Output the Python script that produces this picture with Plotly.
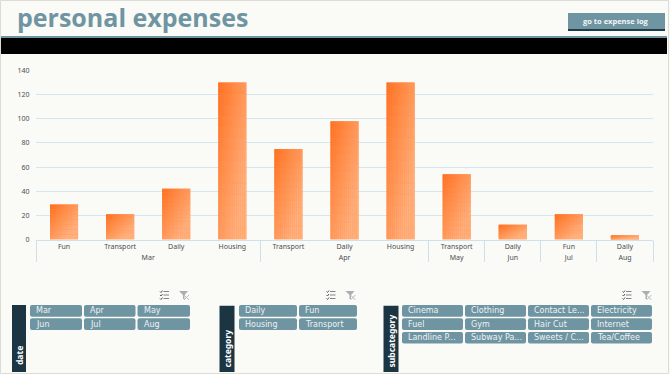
import plotly.graph_objects as go

months = ["Mar", "Mar", "Mar", "Mar", "Apr", "Apr", "Apr", "May", "Jun", "Jul", "Aug"]
categories = ["Fun", "Transport", "Daily", "Housing", "Transport", "Daily", "Housing", "Transport", "Daily", "Fun", "Daily"]
amounts = [29, 21, 42, 130, 75, 98, 130, 54, 12, 21, 3]
y_ticks = [0, 20, 40, 60, 80, 100, 120, 140]
date_items = ["Mar", "Apr", "May", "Jun", "Jul", "Aug"]
category_items = ["Daily", "Fun", "Housing", "Transport"]
subcategory_items = ["Cinema", "Clothing", "Contact Le...", "Electricity", "Fuel", "Gym", "Hair Cut", "Internet",
                     "Landline P...", "Subway Pa...", "Sweets / C...", "Tea/Coffee"]

W, H = 670, 374
BG = "#FAFAF6"
TEAL = "#6F95A3"
DARK = "#1C3542"
LABEL = "DejaVu Sans"
AXIS_FONT = "Noto Sans"
CLEAR = "rgba(0,0,0,0)"


def px(x):
    return x / W


def py(y):
    return 1 - y / H


def rect(x0, y0, x1, y1, color, line=None, radius=0):
    if radius:
        r = radius
        path = (f"M{px(x0 + r)},{py(y0)} L{px(x1 - r)},{py(y0)} Q{px(x1)},{py(y0)} {px(x1)},{py(y0 + r)} "
                f"L{px(x1)},{py(y1 - r)} Q{px(x1)},{py(y1)} {px(x1 - r)},{py(y1)} "
                f"L{px(x0 + r)},{py(y1)} Q{px(x0)},{py(y1)} {px(x0)},{py(y1 - r)} "
                f"L{px(x0)},{py(y0 + r)} Q{px(x0)},{py(y0)} {px(x0 + r)},{py(y0)} Z")
        return dict(type="path", xref="paper", yref="paper", path=path, fillcolor=color,
                    line=dict(width=0), layer="below")
    return dict(type="rect", xref="paper", yref="paper", x0=px(x0), x1=px(x1), y0=py(y1), y1=py(y0),
                fillcolor=color, line=dict(width=1, color=line) if line else dict(width=0), layer="below")


def seg(x0, y0, x1, y1, color="#7F868A", width=1):
    return dict(type="line", xref="paper", yref="paper", x0=px(x0), x1=px(x1), y0=py(y0), y1=py(y1),
                line=dict(color=color, width=width), layer="above")


def text(x, y, s, size, color, bold=False, anchor="left", angle=0, family=LABEL):
    return dict(xref="paper", yref="paper", x=px(x), y=py(y), text=f"<b>{s}</b>" if bold else s, showarrow=False,
                xanchor=anchor, yanchor="middle", textangle=angle, font=dict(family=family, size=size, color=color))


shapes = [
    rect(0.5, 0.5, 668.5, 373.5, BG, line="#DCDCD6"),
    rect(1, 36, 667, 38, "#6F95A3"),
    rect(1, 38, 667, 54, "#000000"),
    rect(568, 13, 665, 29, TEAL),
    rect(568, 29, 665, 31, "#1F3C4A"),
]
annotations = [
    text(15, 17, "personal expenses", 25, TEAL, bold=True, family="Open Sans"),
    text(616, 21, "go to expense log", 7.5, "#F4F7F8", bold=True, anchor="center", family="Open Sans"),
]


def slicer(title, hx0, hx1, hy0, items, col_edges, title_y):
    shapes.append(rect(hx0, hy0, hx1, 372, DARK))
    annotations.append(text((hx0 + hx1) / 2, title_y, title, 8.5, "#FFFFFF", bold=True, anchor="center", angle=-90,
                            family=AXIS_FONT))
    rows = [(305, 316.7), (318.3, 330), (332, 343.6)]
    n = len(col_edges)
    for i, item in enumerate(items):
        cx0, cx1 = col_edges[i % n]
        ry0, ry1 = rows[i // n]
        shapes.append(rect(cx0, ry0, cx1, ry1, TEAL, radius=2))
        annotations.append(text(cx0 + 4, (ry0 + ry1) / 2, item, 8, "#EDF2F3"))


def icons(x):
    # checklist icon
    for dy in (0, 3.5, 7):
        shapes.append(seg(x - 1, 291.5 + dy, x + 4.5, 291.5 + dy))
        shapes.append(seg(x - 4.5, 291.5 + dy, x - 3.5, 292.5 + dy, color="#555B5E"))
        shapes.append(seg(x - 3.5, 292.5 + dy, x - 2, 290.5 + dy, color="#555B5E"))
    # clear-filter icon
    fx = x + 19.5
    shapes.append(dict(type="path", xref="paper", yref="paper",
                       path=(f"M{px(fx - 5)},{py(291)} L{px(fx + 4)},{py(291)} L{px(fx + 0.5)},{py(295)} "
                             f"L{px(fx + 0.5)},{py(299)} L{px(fx - 1)},{py(299)} L{px(fx - 1)},{py(295)} Z"),
                       fillcolor="#A9AEB0", line=dict(width=0), layer="above"))
    shapes.append(seg(fx, 295, fx + 5, 300, color="#B9BDBE"))
    shapes.append(seg(fx, 300, fx + 5, 295, color="#B9BDBE"))


slicer("date", 12, 26, 305, date_items, [(30, 82), (84, 135.5), (137.5, 190)], 356)
slicer("category", 219.5, 234.5, 305.7, category_items, [(239, 297), (299, 357)], 348.5)
slicer("subcategory", 383.5, 398.5, 305.7, subcategory_items, [(402, 463), (465, 526), (528, 589), (591, 652)], 341.5)
icons(164.5)
icons(331)
icons(627)

fig = go.Figure()
x_multi = [months, categories]
BAR_W = 0.5

# solid bars carrying the values
fig.add_bar(x=x_multi, y=amounts, width=BAR_W, marker=dict(color="#FF8F4E", line=dict(width=0)), hoverinfo="x+y")

# diagonal gradient painted over each bar as a fine grid of cells
NX, NY = 14, 14
C0 = (255, 110, 28)
C1 = (255, 176, 125)
gx0, gx1, gb, gh, gw, go_, gc = [], [], [], [], [], [], []
for m, c, v in zip(months, categories, amounts):
    for i in range(NX):
        for j in range(NY):
            t = ((i + 0.5) / NX + (j + 0.5) / NY) / 2
            t = min(1, t * 1.3)
            col = tuple(round(a + (b - a) * t) for a, b in zip(C0, C1))
            gx0.append(m)
            gx1.append(c)
            gb.append(v * (1 - (j + 1) / NY))
            gh.append(v / NY)
            gw.append(BAR_W / NX)
            go_.append(-BAR_W / 2 + i * BAR_W / NX)
            gc.append("rgb(%d,%d,%d)" % col)
fig.add_bar(x=[gx0, gx1], y=gh, base=gb, width=gw, offset=go_,
            marker=dict(color=gc, line=dict(width=0)), hoverinfo="skip")

fig.update_layout(
    width=W, height=H, margin=dict(l=0, r=0, t=0, b=0, autoexpand=False), showlegend=False, barmode="overlay",
    paper_bgcolor=BG, plot_bgcolor=BG,
    font=dict(family=AXIS_FONT, size=7, color="#4A4F52"),
    shapes=shapes, annotations=annotations,
    xaxis=dict(domain=[px(36), px(653)], type="multicategory", showdividers=True, dividercolor="#CFE0EA",
               dividerwidth=1, showline=True, linecolor="#CFE0EA", linewidth=1, mirror=False,
               ticks="outside", ticklen=5, tickcolor=CLEAR,
               tickfont=dict(family=AXIS_FONT, size=7, color="#4A4F52"), showgrid=False, zeroline=False),
    yaxis=dict(domain=[py(239.5), py(70.5)], range=[0, 140], tickvals=y_ticks, ticks="outside", ticklen=4,
               tickcolor=CLEAR, gridcolor="#D6E6EF", gridwidth=1, zeroline=False, showline=False,
               tickfont=dict(family=AXIS_FONT, size=7, color="#4A4F52")),
)
fig.write_html("out.html", config=dict(displayModeBar=False),
               post_script="document.body.style.margin='0';document.body.style.overflow='hidden';")
